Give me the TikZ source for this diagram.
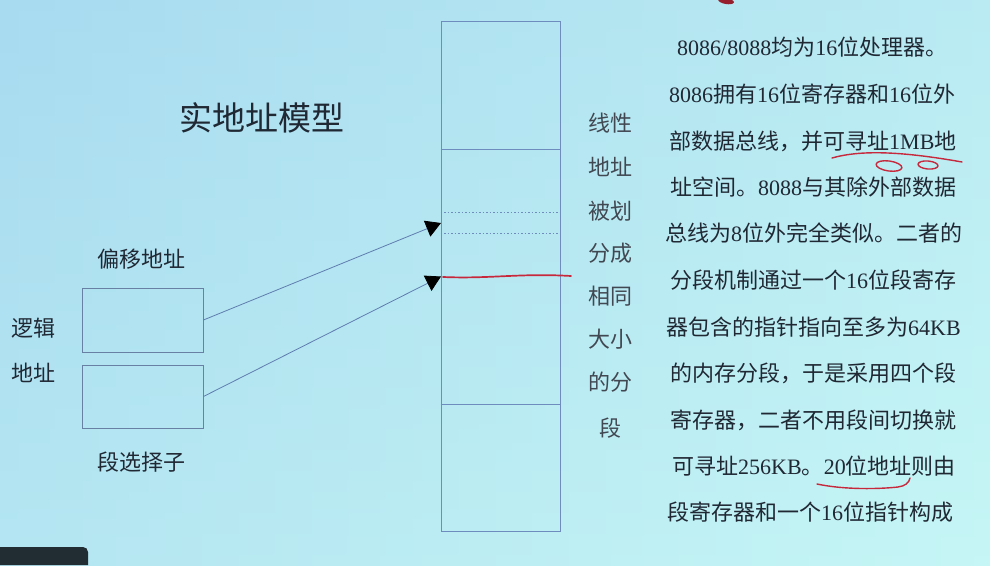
\documentclass[tikz,border=0pt]{standalone}
\usepackage{fontspec}
\setmainfont{Noto Sans CJK SC}
\newfontfamily\latf{Liberation Serif}
\newcommand\lt[1]{{\latf #1}}
\usetikzlibrary{arrows.meta}
\definecolor{bgA}{RGB}{168,219,240}
\definecolor{bgB}{RGB}{198,246,245}
\definecolor{ink}{RGB}{32,40,52}
\definecolor{boxc}{RGB}{105,128,165}
\definecolor{colc}{RGB}{110,140,190}
\definecolor{arrc}{RGB}{95,125,175}
\definecolor{redm}{RGB}{200,40,60}
\definecolor{darkbar}{RGB}{34,45,51}
\tikzset{
  lbl/.style={text=ink, inner sep=0, font=\fontsize{22}{22}\selectfont},
  para/.style={text=ink, inner sep=0, anchor=west, font=\fontsize{22}{22}\selectfont},
  vt/.style={text=ink!85, inner sep=0, font=\fontsize{22}{22}\selectfont},
  regbox/.style={draw=boxc, line width=0.9pt, minimum width=121pt, inner sep=0},
  arr/.style={draw=arrc, line width=0.8pt, -{Triangle[length=15pt,width=17pt,black]}},
  redpen/.style={draw=redm, line width=1.4pt, line cap=round, line join=round},
  colline/.style={draw=colc, line width=0.9pt}
}
\begin{document}
\begin{tikzpicture}[x=1pt,y=-1pt]
\useasboundingbox (0,0) rectangle (990,565);
\shade[left color=bgA, right color=bgB] (0,0) rectangle (990,565);
\shade[top color=bgA, bottom color=bgB, opacity=0.4] (0,0) rectangle (990,565);

% title
\node[text=ink, inner sep=0, font=\fontsize{33}{33}\selectfont] (title) at (262,118) {实地址模型};

% logical address
\node[lbl] (offl) at (141,259) {偏移地址};
\node[regbox, minimum height=64pt] (off) at (142.5,320) {};
\node[regbox, minimum height=63pt] (sel) at (142.5,396.5) {};
\node[lbl] (segl) at (141,462) {段选择子};
\node[lbl] (la1) at (33,328) {逻辑};
\node[lbl] (la2) at (33,373) {地址};

% memory column
\node[colline, minimum width=119pt, minimum height=510pt, inner sep=0] (mem) at (500.5,276) {};
\draw[colline] (mem.west |- 0,149) -- (mem.east |- 0,149);
\draw[colline] (mem.west |- 0,404) -- (mem.east |- 0,404);
\draw[colline, dash pattern=on 1.5pt off 2pt] (mem.west |- 0,212.5) -- (mem.east |- 0,212.5);
\draw[colline, dash pattern=on 1.5pt off 2pt] (mem.west |- 0,233) -- (mem.east |- 0,233);

\coordinate (t1) at (441,223);
\coordinate (t2) at (441,276.5);
\draw[arr] (off.east) -- (t1);
\draw[arr] (sel.east) -- (t2);

\draw[redpen, line width=1.7pt] (443,277) .. controls (490,279) and (520,273) .. (571,276);

% vertical text
\node[vt] (v1) at (610,123) {线性};
\node[vt] (v2) at (610,167) {地址};
\node[vt] (v3) at (610,211) {被划};
\node[vt] (v4) at (610,253) {分成};
\node[vt] (v5) at (610,296) {相同};
\node[vt] (v6) at (610,339) {大小};
\node[vt] (v7) at (610,382) {的分};
\node[vt] (v8) at (610,428) {段};

% paragraph
\node[para] (p1) at (677,47) {\lt{8086/8088}均为\lt{16}位处理器。};
\node[para] (p2) at (669,94) {\lt{8086}拥有\lt{16}位寄存器和\lt{16}位外};
\node[para] (p3) at (669,141) {部数据总线，并可寻址\lt{1MB}地};
\node[para] (p4) at (670,187) {址空间。\lt{8088}与其除外部数据};
\node[para] (p5) at (665,233) {总线为\lt{8}位外完全类似。二者的};
\node[para] (p6) at (670,280) {分段机制通过一个\lt{16}位段寄存};
\node[para] (p7) at (666,327) {器包含的指针指向至多为\lt{64KB}};
\node[para] (p8) at (670,373) {的内存分段，于是采用四个段};
\node[para] (p9) at (670,420) {寄存器，二者不用段间切换就};
\node[para] (p10) at (672,466) {可寻址\lt{256KB}。\lt{20}位地址则由};
\node[para] (p11) at (667,512) {段寄存器和一个\lt{16}位指针构成};

% red annotations
\draw[redpen] (832,158) .. controls (860,150) and (900,151) .. (962,162);
\draw[redpen, rotate around={-8:(889,166)}] (889,166) ellipse [x radius=13pt, y radius=5pt];
\draw[redpen, rotate around={-5:(928,165)}] (928,165) ellipse [x radius=10pt, y radius=4pt];
\draw[redpen] (817,484) .. controls (845,490) and (880,489) .. (898,487) .. controls (905,486) and (909,483) .. (910,478);
\fill[redm!75!black, rotate around={-10:(726,1)}] (726,1) ellipse [x radius=8pt, y radius=3pt];

% dark bar
\fill[darkbar] (0,565) -- (0,547) -- (83,547) to[out=0,in=90] (88,552) -- (88,565) -- cycle;
\end{tikzpicture}
\end{document}
